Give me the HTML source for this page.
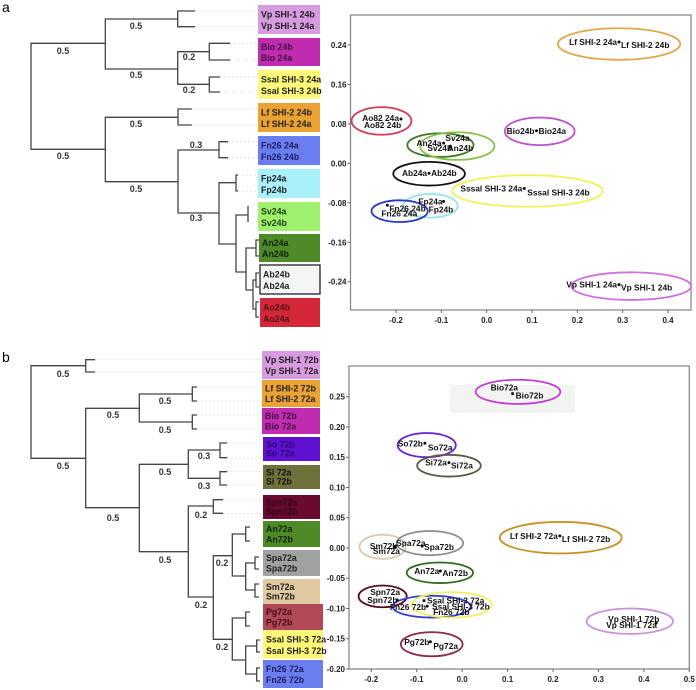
<!DOCTYPE html>
<html><head><meta charset="utf-8">
<style>
html,body{margin:0;padding:0;background:#fff;}
svg{display:block;font-family:"Liberation Sans",Arial,sans-serif;}
.tk{font-size:8px;font-weight:bold;fill:#222;}
.bl{font-size:9px;font-weight:bold;fill:#333;text-anchor:middle;}
.lb{font-size:8.8px;font-weight:bold;}
.pl{font-size:8.4px;font-weight:bold;fill:#111;}
</style></head>
<body>
<svg id="fig" width="696" height="690" viewBox="0 0 696 690">
<text x="2" y="12" font-size="14">a</text>
<text x="2" y="362" font-size="14">b</text>
<g id="dendroA" fill="none" stroke="#444" stroke-width="1.3"></g>
<g id="dendroB" fill="none" stroke="#444" stroke-width="1.3"></g>
<g id="boxesA"></g>
<g id="boxesB"></g>
<g id="plotA"></g>
<g id="plotB"></g>
</svg>
<script>
// ===== Panel A scatter data =====
const groupsA = ["Lf","Ao82","An","Sv","Bio","Ab","Sssal","Fp","Fn26","Vp"];
const centerXA = [0.292,-0.232,-0.102,-0.065,0.117,-0.127,0.090,-0.124,-0.192,0.319];
const centerYA = [0.242,0.086,0.037,0.035,0.065,-0.021,-0.056,-0.086,-0.097,-0.249];
const spreadXA = [0.135,0.066,0.073,0.082,0.077,0.079,0.166,0.060,0.062,0.132];
const spreadYA = [0.032,0.028,0.024,0.028,0.028,0.024,0.032,0.024,0.022,0.028];
const pointXA = [0.292,-0.189,-0.095,-0.080,0.110,-0.127,0.083,-0.095,-0.219,0.292];
const pointYA = [0.246,0.090,0.041,0.035,0.066,-0.020,-0.051,-0.077,-0.085,-0.246];
const labelAA = ["Lf SHI-2 24a","Ao82 24a","An24a","Sv24a","Bio24b","Ab24a","Sssal SHI-3 24a","Fp24a","Fn26 24b","Vp SHI-1 24a"];
const labelBA = ["Lf SHI-2 24b","Ao82 24b","An24b","Sv24b","Bio24a","Ab24b","Sssal SHI-3 24b","Fp24b","Fn26 24a","Vp SHI-1 24b"];
const colorsA = ["#e0a848","#d03c58","#3e7a2a","#8ac048","#c050d0","#111111","#f0f060","#98e4ec","#2838c8","#d070e0"];
const xTicksA = [-0.2,-0.1,0.0,0.1,0.2,0.3,0.4];
const xTickLabelsA = ["-0.2","-0.1","0.0","0.1","0.2","0.3","0.4"];
const yTicksA = [0.24,0.16,0.08,0.00,-0.08,-0.16,-0.24];
const yTickLabelsA = ["0.24","0.16","0.08","0.00","-0.08","-0.16","-0.24"];
const layoutA = [[-2,3,"end",2,6,"start"],[-2,2,"end",-37,9,"start"],[-2,3,"end",4,8,"start"],[-5,-5,"start",-23,5,"start"],[-2,3,"end",2,3,"start"],[-2,3,"end",2,3,"start"],[-2,3,"end",3,7,"start"],[-1,3,"end",-15,11,"start"],[2,6,"start",-6,11,"start"],[-2,3,"end",2,6,"start"]];

// ===== Panel B scatter data =====
const groupsB = ["Bio","So","Si","Lf","Sm","Spa","An","Spn","Fn26","Ssal","Pg","Vp"];
const centerXB = [0.123,-0.078,-0.029,0.217,-0.175,-0.071,-0.049,-0.175,-0.067,-0.023,-0.067,0.369];
const centerYB = [0.258,0.170,0.136,0.017,0.002,0.008,-0.041,-0.080,-0.097,-0.094,-0.159,-0.121];
const spreadXB = [0.093,0.064,0.070,0.134,0.051,0.073,0.073,0.053,0.086,0.088,0.068,0.095];
const spreadYB = [0.020,0.020,0.018,0.026,0.020,0.020,0.017,0.018,0.018,0.021,0.020,0.021];
const pointXB = [0.111,-0.082,-0.029,0.215,-0.148,-0.088,-0.048,-0.143,-0.077,-0.084,-0.070,0.427];
const pointYB = [0.255,0.173,0.141,0.020,0.002,0.003,-0.038,-0.086,-0.096,-0.087,-0.155,-0.124];
const labelAB = ["Bio72a","So72b","Si72a","Lf SHI-2 72a","Sm72b","Spa72a","An72a","Spn72a","Fn26 72b","Ssal SHI-3 72a","Pg72b","Vp SHI-1 72b"];
const labelBB = ["Bio72b","So72a","Si72a","Lf SHI-2 72b","Sm72a","Spa72b","An72b","Spn72b","Fn26 72b","Ssal SHI-3 72b","Pg72a","Vp SHI-1 72a"];
const colorsB = ["#c040d0","#6a20d0","#5a5a48","#c89028","#d8ccaa","#8c8c8c","#2e6b1f","#5a0a20","#3040d0","#f0f060","#8a2c48","#c890e0"];
const xTicksB = [-0.2,-0.1,0.0,0.1,0.2,0.3,0.4,0.5];
const xTickLabelsB = ["-0.2","-0.1","0.0","0.1","0.2","0.3","0.4","0.5"];
const yTicksB = [0.25,0.20,0.15,0.10,0.05,0.00,-0.05,-0.10,-0.15,-0.20];
const yTickLabelsB = ["0.25","0.20","0.15","0.10","0.05","0.00","-0.05","-0.10","-0.15","-0.20"];
const layoutB = [[-22,-3,"start",3,5,"start"],[-2,3,"end",3,7,"start"],[-2,3,"end",2,6,"start"],[-2,3,"end",2,6,"start"],[-25,2,"start",-22,7,"start"],[-26,0,"start",2,4,"start"],[-1,3,"end",2,5,"start"],[-27,-5,"start",-30,3,"start"],[-1,4,"end",6,9,"start"],[3,3,"start",8,9,"start"],[-1,3,"end",3,7,"start"],[-48,-1,"start",-50,5,"start"]];

const NS="http://www.w3.org/2000/svg";
function mk(tag,attrs,parent){const e=document.createElementNS(NS,tag);for(const k in attrs)e.setAttribute(k,attrs[k]);parent.appendChild(e);return e;}

function drawPlot(g,box,xDom,yDom,xT,xTL,yT,yTL,cx,cy,sx,sy,px,py,la,lb,cols,lay,names,prefix){
  const X=v=>box.x0+(v-xDom[0])/(xDom[1]-xDom[0])*(box.x1-box.x0);
  const Y=v=>box.y1-(v-yDom[0])/(yDom[1]-yDom[0])*(box.y1-box.y0);
  const fr=mk('rect',{x:box.x0,y:box.y0,width:box.x1-box.x0,height:box.y1-box.y0,fill:'none',stroke:'#8a8a8a','stroke-width':1.3},g);
  
  
  xT.forEach((v,i)=>{
    mk('line',{x1:X(v),x2:X(v),y1:box.y1,y2:box.y1+3,stroke:'#666'},g);
    const t=mk('text',{x:X(v),y:box.y1+13,class:'tk','text-anchor':'middle'},g);t.textContent=xTL[i];
    
    
  });
  yT.forEach((v,i)=>{
    mk('line',{x1:box.x0-3,x2:box.x0,y1:Y(v),y2:Y(v),stroke:'#666'},g);
    const t=mk('text',{x:box.x0-4,y:Y(v)+3,class:'tk','text-anchor':'end'},g);t.textContent=yTL[i];
    
    
  });
  cx.forEach((v,i)=>{
    const rx=sx[i]/(xDom[1]-xDom[0])*(box.x1-box.x0);
    const ry=sy[i]/(yDom[1]-yDom[0])*(box.y1-box.y0);
    const e=mk('ellipse',{cx:X(v),cy:Y(cy[i]),rx:rx,ry:ry,fill:'none',stroke:cols[i],'stroke-width':1.8},g);
    
    
  });
  px.forEach((v,i)=>{
    const x=X(v),y=Y(py[i]);
    const d=mk('circle',{cx:x,cy:y,r:1.5,fill:'#111'},g);
    
    
    const L=lay[i];
    const t1=mk('text',{x:x+L[0],y:y+L[1],class:'pl','text-anchor':L[2]},g);t1.textContent=la[i];
    
    
    const t2=mk('text',{x:x+L[3],y:y+L[4],class:'pl','text-anchor':L[5]},g);t2.textContent=lb[i];
    
    
  });
}

const gA=document.getElementById('plotA');
(function(){
  const x0=350.5,x1=691,y0=15,y1=310;
  const xa=-0.2+(x0-396)/((668-396)/0.6), xb=-0.2+(x1-396)/((668-396)/0.6);
  const ya=-0.24+(281.7-y1)/((281.7-45)/0.48), yb=-0.24+(281.7-y0)/((281.7-45)/0.48);
  drawPlot(gA,{x0,x1,y0,y1},[xa,xb],[ya,yb],xTicksA,xTickLabelsA,yTicksA,yTickLabelsA,centerXA,centerYA,spreadXA,spreadYA,pointXA,pointYA,labelAA,labelBA,colorsA,layoutA,groupsA,'a');
})();
const gB=document.getElementById('plotB');
mk('rect',{x:450,y:385,width:125,height:28,fill:'#f2f4f2'},gB);
(function(){
  const x0=349,x1=689.3,y0=366,y1=669;
  const xa=-0.2+(x0-371.3)/((689.3-371.3)/0.7), xb=-0.2+(x1-371.3)/((689.3-371.3)/0.7);
  const ya=-0.20+(669-y1)/((669-396.7)/0.45), yb=-0.20+(669-y0)/((669-396.7)/0.45);
  drawPlot(gB,{x0,x1,y0,y1},[xa,xb],[ya,yb],xTicksB,xTickLabelsB,yTicksB,yTickLabelsB,centerXB,centerYB,spreadXB,spreadYB,pointXB,pointYB,labelAB,labelBB,colorsB,layoutB,groupsB,'b');
})();

function elbow(g,x,ya,yb,xa,xb){
  mk('path',{d:`M${xa} ${ya}H${x}V${yb}H${xb}`},g);
}
function dashes(g,ys,xs,xe){ys.forEach((y,i)=>mk('line',{x1:xs[i],x2:xe,y1:y,y2:y,stroke:'#ddd','stroke-width':0.8,'stroke-dasharray':'2,2'},g));}
function lbl(parentId,arr){const g=document.getElementById(parentId);arr.forEach(a=>{const t=mk('text',{x:a[1],y:a[2]+3,class:'bl',stroke:'none'},g);t.textContent=a[0];});}

const dA=document.getElementById('dendroA');
dashes(dA,[11,26.7,43.3,60,77,92,109,125,141.7,157.7,175,191,206,222],[195,195,230,230,220,220,191.7,191.7,228,228,238,238,248,248],258);
elbow(dA,31,43.3,149.3,105.3,105.3);
elbow(dA,105.3,19,69,177.7,177.7);
elbow(dA,177.7,11,26.7,195,195);
elbow(dA,177.7,51.7,84.3,209.3,209.3);
elbow(dA,209.3,43.3,60,230,230);
elbow(dA,209.3,77,92,220,220);
elbow(dA,105.3,117.3,181.7,178,178);
elbow(dA,178,109,125,191.7,191.7);
elbow(dA,178,150,213,219,219);
elbow(dA,219,141.7,157.7,228,228);
elbow(dA,219,182.7,244,236,236);
elbow(dA,236,175,191,238,238);
elbow(dA,236,215,272,248,246);
elbow(dA,248,206,222,248,248);
elbow(dA,246,248,290,256,253);
elbow(dA,256,240,256,259,259);
elbow(dA,253,280,309,256,256);
elbow(dA,256,273,287,259,259);
elbow(dA,256,302,317,259,259);
lbl('dendroA',[["0.5",63,51],["0.5",63,156],["0.5",136,26],["0.5",136,75],["0.5",136,124],["0.5",136,189],["0.2",189,57],["0.2",189,90],["0.3",196,145],["0.3",196,218]]);

const dB=document.getElementById('dendroB');
dashes(dB,[359.7,372,387,401,415,429,443,457.7,471.7,485,499.7,513.3],[95,95,197,197,197,197,227,227,227,227,223,223],262);
elbow(dB,31,365.7,458.3,85.7,85.7);
elbow(dB,85.7,359.7,372,95,95);
elbow(dB,85.7,408.3,507.7,139.3,139.3);
elbow(dB,139.3,394,422,192.3,192.3);
elbow(dB,192.3,387,401,197,197);
elbow(dB,192.3,415,429,197,197);
elbow(dB,139.3,464.3,551.7,188.3,188.3);
elbow(dB,188.3,450,478.3,220,220);
elbow(dB,220,443,457.7,227,227);
elbow(dB,220,471.7,485,227,227);
elbow(dB,188.3,506,597,213.3,213.3);
elbow(dB,213.3,499.7,513.3,223,223);
elbow(dB,213.3,555.7,639.3,232.3,232.3);
elbow(dB,232.3,534,576,245.7,245.7);
elbow(dB,245.7,527,541,250,250);
elbow(dB,245.7,563,590,255,255);
elbow(dB,255,557,569,259,259);
elbow(dB,255,584,597,259,259);
elbow(dB,232.3,618,660,245.7,245.7);
elbow(dB,245.7,612,626,250,250);
elbow(dB,245.7,646,674,256.7,256.7);
elbow(dB,256.7,640,652,260,260);
elbow(dB,256.7,668,681,260,260);
lbl('dendroB',[["0.5",63,374],["0.5",63,466],["0.5",113,415],["0.5",113,518],["0.5",165,401],["0.5",165,430],["0.5",165,472],["0.5",165,560],["0.3",204,456],["0.3",204,486],["0.2",201,515],["0.2",201,605],["0.2",222,563],["0.2",222,647]]);

function boxes(id,list){
  const g=document.getElementById(id);
  list.forEach(b=>{
    const r=mk('rect',{x:b[0],y:b[1],width:b[2]-b[0],height:b[3]-b[1],fill:b[4]},g);
    if(b[8]){r.setAttribute('stroke','#222');r.setAttribute('stroke-width','1.3');}
    
    
    const h=b[3]-b[1];
    const t1=mk('text',{x:b[0]+3,y:b[1]+h*0.43,class:'lb',fill:b[5]},g);t1.textContent=b[6];
    
    
    const t2=mk('text',{x:b[0]+3,y:b[1]+h*0.82,class:'lb',fill:b[5]},g);t2.textContent=b[7];
    
    
  });
}
boxes('boxesA',[
 [258,5,320,34,"#d89ae0","#222","Vp SHI-1 24b","Vp SHI-1 24a"],
 [258,38,320,66,"#c02cb0","#401040","Bio 24b","Bio 24a"],
 [258,70,320,99,"#fff878","#222","Ssal SHI-3 24a","Ssal SHI-3 24b"],
 [258,103,320,132,"#eaa232","#222","Lf SHI-2 24b","Lf SHI-2 24a"],
 [258,136,320,165,"#6a7ef0","#202060","Fn26 24a","Fn26 24b"],
 [258,169,320,198,"#a8f0fa","#222","Fp24a","Fp24b"],
 [258,202,320,231,"#a0f070","#224010","Sv24a","Sv24b"],
 [259,234,320,262,"#4e8a28","#102008","An24a","An24b"],
 [260,265,320,294,"#f4f6f6","#222","Ab24b","Ab24a",true],
 [260,298,320,327,"#d42838","#501018","Ao24b","Ao24a"]
]);
boxes('boxesB',[
 [262,351,320,379,"#d89ae0","#222","Vp SHI-1 72b","Vp SHI-1 72a"],
 [262,380,320,407,"#eaa232","#222","Lf SHI-2 72b","Lf SHI-2 72a"],
 [262,408,320,434,"#c02cb0","#401040","Bio 72b","Bio 72a"],
 [263,437,320,461,"#6010d0","#2a0870","So 72b","So 72a"],
 [263,465,320,489,"#70703a","#111","Si 72a","Si 72b"],
 [263,495,320,519,"#6a0a30","#2a0010","Spn72a","Spn72b"],
 [263,521,320,547,"#4e8a28","#102008","An72a","An72b"],
 [263,550,320,576,"#a0a2a0","#222","Spa72a","Spa72b"],
 [263,579,320,604,"#e0c8a0","#222","Sm72a","Sm72b"],
 [263,604,323,630,"#b04858","#401018","Pg72a","Pg72b"],
 [263,630,323,659,"#fff878","#222","Ssal SHI-3 72a","Ssal SHI-3 72b"],
 [263,660,323,688,"#6a7ef0","#202060","Fn26 72a","Fn26 72b"]
]);
</script>
</body></html>
